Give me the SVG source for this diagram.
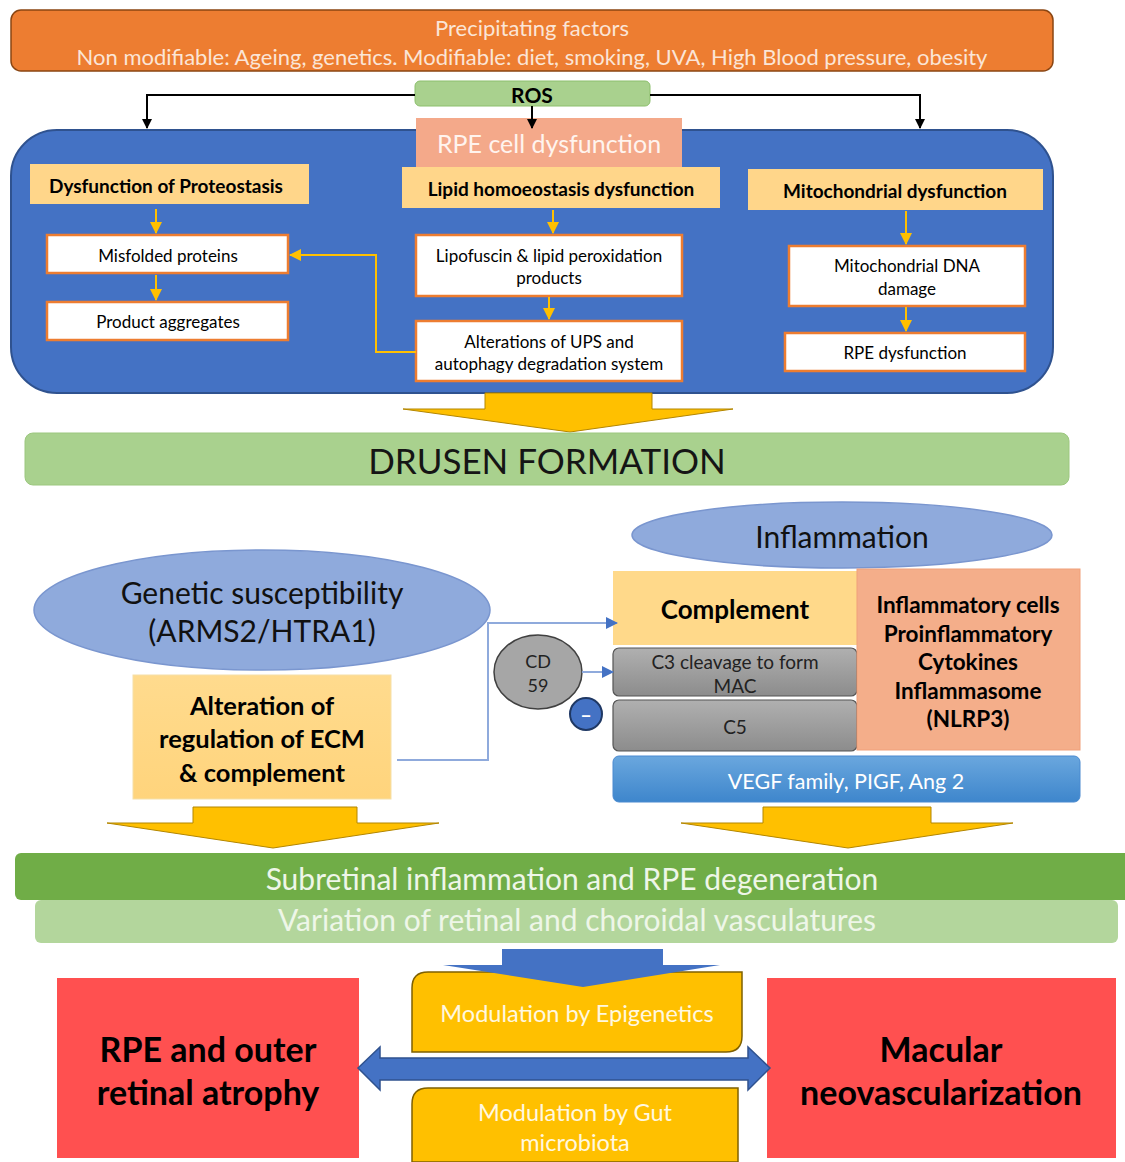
<svg xmlns="http://www.w3.org/2000/svg" width="1125" height="1162" viewBox="0 0 1125 1162">
<style>
text{font-family:Lato,"Open Sans","Liberation Sans",sans-serif;text-anchor:middle;dominant-baseline:central}
.b{font-weight:bold}
.hdr{fill:#FFD68A}
.wb{fill:#fff;stroke:#ED7D31;stroke-width:2.5}
.ya{stroke:#FFC000;stroke-width:2;fill:none}
.bl{stroke:#8FAADC;stroke-width:2;fill:none}
.big{fill:#FFC000;stroke:#B38600;stroke-width:1}
.red{fill:#FF5050}
.mod{fill:#FFC000;stroke:#7F6000;stroke-width:1.5}
.wt{font-size:17px}
.hd{font-size:19px;font-weight:bold}
</style>
<defs>
<marker id="ak" markerWidth="10" markerHeight="10" refX="9" refY="5" orient="auto" markerUnits="userSpaceOnUse"><path d="M0,0 L10,5 L0,10 z" fill="#000"/></marker>
<marker id="ay" markerWidth="12" markerHeight="12" refX="11" refY="6" orient="auto" markerUnits="userSpaceOnUse"><path d="M0,0 L12,6 L0,12 z" fill="#FFC000"/></marker>
<marker id="ab" markerWidth="12" markerHeight="12" refX="11" refY="6" orient="auto" markerUnits="userSpaceOnUse"><path d="M0,0 L12,6 L0,12 z" fill="#4472C4"/></marker>
<linearGradient id="gray" x1="0" y1="0" x2="0" y2="1"><stop offset="0" stop-color="#B0B0B0"/><stop offset="1" stop-color="#8C8C8C"/></linearGradient>
<linearGradient id="vegf" x1="0" y1="0" x2="0" y2="1"><stop offset="0" stop-color="#6AA7DE"/><stop offset="1" stop-color="#3E86CC"/></linearGradient>
<linearGradient id="alt" x1="0" y1="0" x2="0" y2="1"><stop offset="0" stop-color="#FFDB8E"/><stop offset="1" stop-color="#FFD47C"/></linearGradient>
</defs>

<g id="precipitating">
<rect x="11" y="10" width="1042" height="61" rx="10" fill="#ED7D31" stroke="#8A4512" stroke-width="1.5"/>
<text x="532" y="27" font-size="22" fill="#FBE5D6">Precipitating factors</text>
<text x="532" y="56" font-size="22" fill="#FBE5D6">Non modifiable: Ageing, genetics. Modifiable: diet, smoking, UVA, High Blood pressure, obesity</text>
</g>

<g id="rpe-panel">
<rect x="11" y="130" width="1042" height="263" rx="46" fill="#4472C4" stroke="#2F528F" stroke-width="2"/>
</g>

<g id="ros">
<rect x="415" y="81" width="235" height="25" rx="5" fill="#A9D18E" stroke="#8CBF6C" stroke-width="1"/>
<text x="532" y="94" font-size="21" class="b" fill="#000">ROS</text>
</g>

<g id="rpe-cell">
<rect x="416" y="118" width="266" height="49" fill="#F4A98A"/>
<text x="549" y="143" font-size="25" fill="#FFF4EE">RPE cell dysfunction</text>
</g>

<g id="proteostasis">
<rect x="30" y="164" width="279" height="40" class="hdr"/>
<text x="166" y="185" class="hd">Dysfunction of Proteostasis</text>
</g>
<g id="lipid">
<rect x="402" y="167" width="318" height="41" class="hdr"/>
<text x="561" y="188" class="hd">Lipid homoeostasis dysfunction</text>
</g>
<g id="mito">
<rect x="748" y="169" width="295" height="41" class="hdr"/>
<text x="895" y="190" class="hd">Mitochondrial dysfunction</text>
</g>

<g id="misfolded">
<rect x="47" y="235" width="241" height="38" class="wb"/>
<text x="168" y="255" class="wt">Misfolded proteins</text>
</g>
<g id="aggregates">
<rect x="47" y="302" width="241" height="38" class="wb"/>
<text x="168" y="321" class="wt">Product aggregates</text>
</g>
<g id="lipofuscin">
<rect x="416" y="235" width="266" height="61" class="wb"/>
<text x="549" y="255" class="wt">Lipofuscin &amp; lipid peroxidation</text>
<text x="549" y="277" class="wt">products</text>
</g>
<g id="ups">
<rect x="416" y="321" width="266" height="60" class="wb"/>
<text x="549" y="341" class="wt">Alterations of UPS and</text>
<text x="549" y="363" class="wt">autophagy degradation system</text>
</g>
<g id="mtdna">
<rect x="789" y="246" width="236" height="60" class="wb"/>
<text x="907" y="265" class="wt">Mitochondrial DNA</text>
<text x="907" y="288" class="wt">damage</text>
</g>
<g id="rpe-dys">
<rect x="785" y="333" width="240" height="38" class="wb"/>
<text x="905" y="352" class="wt">RPE dysfunction</text>
</g>

<g id="drusen-arrow">
<path d="M485,393 L652,393 L652,409 L733,409 L570,432 L403,409 L485,409 Z" class="big"/>
</g>
<g id="drusen">
<rect x="25" y="433" width="1044" height="52" rx="8" fill="#A9D18E" stroke="#9CC77F" stroke-width="1"/>
<text x="547" y="460" font-size="35" fill="#151515">DRUSEN FORMATION</text>
</g>

<g id="inflammation">
<ellipse cx="842" cy="535" rx="210" ry="33" fill="#8FAADC" stroke="#7A96CF" stroke-width="1.5"/>
<text x="842" y="536" font-size="30" fill="#111">Inflammation</text>
</g>
<g id="genetic">
<ellipse cx="262" cy="610" rx="228" ry="60" fill="#8FAADC" stroke="#7A96CF" stroke-width="1.5"/>
<text x="262" y="592" font-size="30" fill="#111">Genetic susceptibility</text>
<text x="262" y="630" font-size="30" fill="#111">(ARMS2/HTRA1)</text>
</g>
<g id="alteration">
<rect x="133" y="675" width="258" height="124" fill="url(#alt)" stroke="#F5E0A8" stroke-width="1"/>
<text x="262" y="705" font-size="25.5" class="b">Alteration of</text>
<text x="262" y="738" font-size="25.5" class="b">regulation of ECM</text>
<text x="262" y="772" font-size="25.5" class="b">&amp; complement</text>
</g>

<g id="complement">
<rect x="613" y="571" width="244" height="74" fill="#FFD98A"/>
<text x="735" y="609" font-size="26" class="b">Complement</text>
</g>
<g id="c3">
<rect x="613" y="648" width="244" height="48" rx="6" fill="url(#gray)" stroke="#555" stroke-width="1.2"/>
<text x="735" y="661" font-size="19" fill="#222">C3 cleavage to form</text>
<text x="735" y="685" font-size="19" fill="#222">MAC</text>
</g>
<g id="c5">
<rect x="613" y="700" width="244" height="51" rx="6" fill="url(#gray)" stroke="#555" stroke-width="1.2"/>
<text x="735" y="726" font-size="19" fill="#222">C5</text>
</g>
<g id="inflammatory-cells">
<rect x="857" y="569" width="223" height="181" fill="#F4AE8A" stroke="#F0A07A" stroke-width="1"/>
<text x="968" y="604" font-size="22.5" class="b">Inflammatory cells</text>
<text x="968" y="633" font-size="22.5" class="b">Proinflammatory</text>
<text x="968" y="661" font-size="22.5" class="b">Cytokines</text>
<text x="968" y="690" font-size="22.5" class="b">Inflammasome</text>
<text x="968" y="718" font-size="22.5" class="b">(NLRP3)</text>
</g>
<g id="vegf">
<rect x="613" y="756" width="467" height="46" rx="6" fill="url(#vegf)" stroke="#4A8AD0" stroke-width="1"/>
<text x="846" y="781" font-size="21.5" fill="#fff">VEGF family, PIGF, Ang 2</text>
</g>
<g id="cd59">
<ellipse cx="538" cy="672" rx="44" ry="37" fill="#A6A6A6" stroke="#404040" stroke-width="1.5"/>
<text x="538" y="661" font-size="18" fill="#222">CD</text>
<text x="538" y="685" font-size="18" fill="#222">59</text>
</g>
<g id="minus">
<circle cx="586" cy="714" r="16" fill="#4472C4" stroke="#1F3864" stroke-width="2"/>
<text x="586" y="714" font-size="20" class="b" fill="#fff">–</text>
</g>

<g id="arrow-left-big">
<path d="M193,807 L357,807 L357,823 L439,823 L273,848 L107,823 L193,823 Z" class="big"/>
</g>
<g id="arrow-right-big">
<path d="M763,807 L931,807 L931,823 L1013,823 L848,848 L681,823 L763,823 Z" class="big"/>
</g>

<g id="subretinal">
<rect x="15" y="853" width="1120" height="47" rx="6" fill="#70AD47"/>
<text x="572" y="878" font-size="30" fill="#EEF6E8">Subretinal inflammation and RPE degeneration</text>
</g>
<g id="variation">
<rect x="35" y="900" width="1083" height="43" rx="6" fill="#B3D69C"/>
<text x="577" y="919" font-size="30" fill="#EEF6E8">Variation of retinal and choroidal vasculatures</text>
</g>

<g id="atrophy">
<rect x="57" y="978" width="302" height="180" class="red"/>
<text x="208" y="1048" font-size="34" class="b">RPE and outer</text>
<text x="208" y="1091" font-size="34" class="b">retinal atrophy</text>
</g>
<g id="mnv">
<rect x="767" y="978" width="349" height="180" class="red"/>
<text x="941" y="1048" font-size="34" class="b">Macular</text>
<text x="941" y="1091" font-size="34" class="b">neovascularization</text>
</g>
<g id="epigenetics">
<path d="M428,972 L742,972 L742,1036 Q742,1052 726,1052 L412,1052 L412,988 Q412,972 428,972 Z" class="mod"/>
<text x="577" y="1013" font-size="23.5" fill="#FFF8E0">Modulation by Epigenetics</text>
</g>
<g id="gut">
<path d="M428,1088 L738,1088 L738,1162 L412,1162 L412,1104 Q412,1088 428,1088 Z" class="mod"/>
<text x="575" y="1112" font-size="23.5" fill="#FFF8E0">Modulation by Gut</text>
<text x="575" y="1142" font-size="23.5" fill="#FFF8E0">microbiota</text>
</g>
<g id="blue-down-arrow">
<path d="M502,949 L663,949 L663,965 L720,965 L583,987 L443,965 L502,965 Z" fill="#4472C4"/>
</g>
<g id="double-arrow">
<path d="M358,1068 L380,1047 L380,1058 L748,1058 L748,1047 L770,1068 L748,1090 L748,1080 L380,1080 L380,1090 Z" fill="#4472C4" stroke="#2F528F" stroke-width="1.5"/>
</g>

<g id="connectors">
<path d="M415,95 L147,95 L147,128" stroke="#000" stroke-width="2" fill="none" marker-end="url(#ak)"/>
<path d="M650,95 L920,95 L920,128" stroke="#000" stroke-width="2" fill="none" marker-end="url(#ak)"/>
<path d="M532,106 L532,128" stroke="#000" stroke-width="2" fill="none" marker-end="url(#ak)"/>
<path d="M156,209 L156,233" class="ya" marker-end="url(#ay)"/>
<path d="M156,275 L156,300" class="ya" marker-end="url(#ay)"/>
<path d="M553,210 L553,233" class="ya" marker-end="url(#ay)"/>
<path d="M549,297 L549,319" class="ya" marker-end="url(#ay)"/>
<path d="M906,211 L906,244" class="ya" marker-end="url(#ay)"/>
<path d="M906,307 L906,331" class="ya" marker-end="url(#ay)"/>
<path d="M416,352 L376,352 L376,255 L290,255" class="ya" marker-end="url(#ay)"/>
<path d="M397,760 L488,760 L488,623 L617,623" class="bl" marker-end="url(#ab)"/>
<path d="M582,672 L613,672" class="bl" marker-end="url(#ab)"/>
</g>
</svg>
